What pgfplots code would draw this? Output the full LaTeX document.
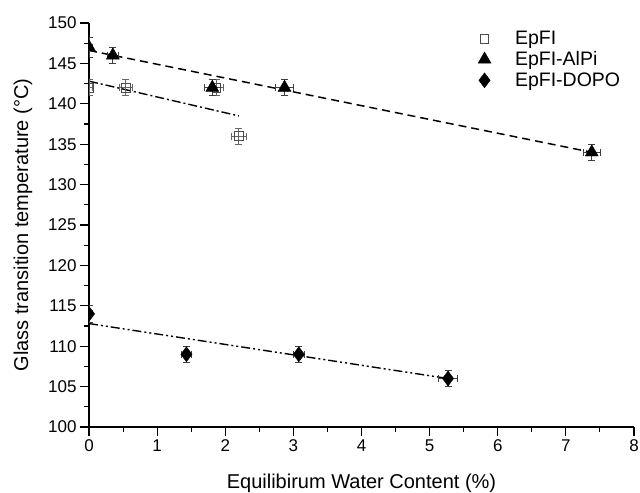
\documentclass[border=0pt]{standalone}
\usepackage{pgfplots}
\pgfplotsset{compat=1.18}
\usepackage{fontspec}
\setmainfont{Liberation Sans}
\begin{document}
\begin{tikzpicture}
\begin{axis}[
 scale only axis, width=545pt, height=404pt,
 xmin=0,xmax=8,ymin=100,ymax=150,
 axis lines=left, axis line style={-, line width=1.2pt},
 xtick={0,...,8}, ytick={100,105,...,150},
 minor x tick num=1, minor y tick num=1,
 tick align=outside, major tick length=9pt, minor tick length=5pt,
 every tick/.style={line width=1.1pt, black},
 font=\fontsize{17}{20}\selectfont,
 /pgf/number format/assume math mode=true,
 xlabel={Equilibirum Water Content (\%)},
 ylabel={Glass transition temperature (°C)},
 label style={font=\fontsize{20}{24}\selectfont},
 xlabel style={at={(rel axis cs:0.5,0)}, anchor=center, yshift=-56pt},
 ylabel style={at={(rel axis cs:0,0.5)}, anchor=center, rotate=0, yshift=66pt},
 legend style={draw=none, fill=none, at={(rel axis cs:0.708,0.99)}, anchor=north west, font=\fontsize{19.5}{23}\selectfont, row sep=1.5pt, column sep=22pt},
 legend cell align=left,
 clip marker paths=true,
 error bars/error bar style={line width=0.8pt},
 error bars/error mark options={rotate=90, mark size=3.5pt, line width=0.8pt},
]
\coordinate (sw) at (rel axis cs:0,0);
\coordinate (ne) at (rel axis cs:1,1);
% fit lines
\addplot[forget plot, black, line width=1.5pt, dash pattern=on 8pt off 5pt] coordinates {(0,146.6) (7.38,134.0)};
\addplot[forget plot, black, line width=1.4pt, dash pattern=on 9pt off 3pt on 2pt off 3pt] coordinates {(0,142.8) (2.2,138.5)};
\addplot[forget plot, black, line width=1.4pt, dash pattern=on 9pt off 3pt on 2pt off 3pt on 2pt off 3pt] coordinates {(0,112.8) (5.27,106.0)};
% EpFI
\addplot[only marks, mark=square, mark size=4.3pt, mark options={black!70, line width=0.8pt, fill=white},
 error bars/.cd, x dir=both, x explicit, y dir=both, y explicit, error bar style={black!60}]
 table[x=x, y=y, x error=ex, y error=ey]{
 x y ex ey
 0 142 0.05 1
 0.54 142 0.09 1
 1.87 142 0.10 1
 2.20 136 0.11 1
};
\addlegendentry{EpFI}
% EpFI-AlPi
\addplot[only marks, mark=triangle*, mark size=7.5pt, mark options={black},
 error bars/.cd, x dir=both, x explicit, y dir=both, y explicit, error bar style={black!75}]
 table[x=x, y=y, x error=ex, y error=ey]{
 x y ex ey
 0 147 0.05 1.2
 0.35 146 0.08 1
 1.81 142 0.12 1
 2.87 142 0.13 1
 7.38 134 0.12 1
};
\addlegendentry{EpFI-AlPi}
% EpFI-DOPO
\addplot[only marks, mark=diamond*, mark size=7.5pt, mark options={black},
 error bars/.cd, x dir=both, x explicit, y dir=both, y explicit, error bar style={black!75}]
 table[x=x, y=y, x error=ex, y error=ey]{
 x y ex ey
 0 114 0.05 1
 1.43 109 0.08 1
 3.08 109 0.08 1
 5.27 106 0.14 1
};
\addlegendentry{EpFI-DOPO}
\end{axis}
\pgfresetboundingbox
\useasboundingbox ([xshift=-89pt,yshift=-65pt]sw) rectangle ([xshift=6pt,yshift=23pt]ne);
\end{tikzpicture}
\end{document}
